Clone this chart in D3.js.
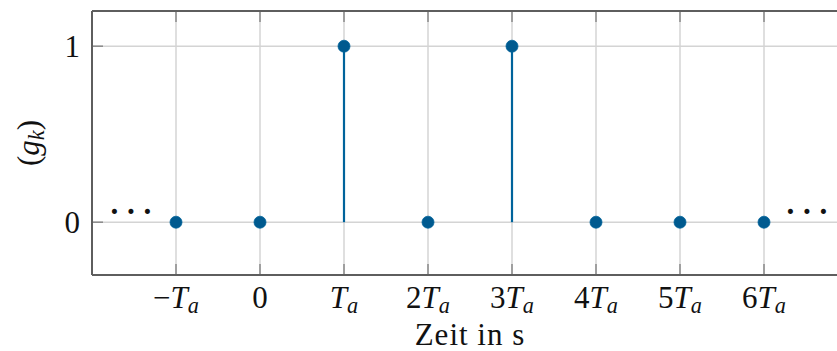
<!DOCTYPE html>
<html>
<head>
<meta charset="utf-8">
<script src="https://cdn.jsdelivr.net/npm/d3@7"></script>
<style>
  html, body { margin: 0; padding: 0; background: #fff; }
  svg { display: block; }
</style>
</head>
<body>
<svg id="chart" width="837" height="351"></svg>
<script>
// Sample positions k (multiples of T_a) and their values g_k
const sampleIndex = [-1, 0, 1, 2, 3, 4, 5, 6];
const sampleValue = [0, 0, 1, 0, 1, 0, 0, 0];
// Tick labels: coefficient in front of T_a, and whether T_a is shown
const xTickLabels = [
  { pre: "\u2212", sym: true },
  { pre: "0", sym: false },
  { pre: "", sym: true },
  { pre: "2", sym: true },
  { pre: "3", sym: true },
  { pre: "4", sym: true },
  { pre: "5", sym: true },
  { pre: "6", sym: true }
];
const yTicks = [0, 1];
const xDomain = [-2, 7];
const yDomain = [-0.3, 1.2];

const FONT = "'Liberation Serif', 'Times New Roman', Times, 'DejaVu Serif', serif";

const svg = d3.select("#chart")
  .attr("font-family", FONT);
const mLeft = 92, mTop = 11, mBottom = 275;
const x = d3.scaleLinear().domain(xDomain).range([mLeft, mLeft + 84 * (xDomain[1] - xDomain[0])]);
const y = d3.scaleLinear().domain(yDomain).range([mBottom, mTop]);
const mRight = x.range()[1];

const blue = "#00639b";
const dotBlue = "#005a8f";
const gridCol = "#d4d4d4";
const axisCol = "#5e5e5e";
const tickCol = "#8a8a8a";
const textCol = "#111";
const fs = 31;

// grid
svg.append("g").selectAll("line").data(sampleIndex).join("line")
  .attr("x1", d => x(d)).attr("x2", d => x(d))
  .attr("y1", mTop).attr("y2", mBottom)
  .attr("stroke", gridCol).attr("stroke-width", 1.5);
svg.append("g").selectAll("line").data(yTicks).join("line")
  .attr("x1", mLeft).attr("x2", mRight)
  .attr("y1", d => y(d)).attr("y2", d => y(d))
  .attr("stroke", gridCol).attr("stroke-width", 1.5);

// inner ticks on bottom, top and left
const tl = 11;
const ticks = svg.append("g").attr("stroke", tickCol).attr("stroke-width", 1.5);
ticks.append("g").selectAll("line").data(sampleIndex).join("line")
  .attr("x1", d => x(d)).attr("x2", d => x(d))
  .attr("y1", mBottom).attr("y2", mBottom - tl);
ticks.append("g").selectAll("line").data(sampleIndex).join("line")
  .attr("x1", d => x(d)).attr("x2", d => x(d))
  .attr("y1", mTop).attr("y2", mTop + tl);
ticks.append("g").selectAll("line").data(yTicks).join("line")
  .attr("x1", mLeft).attr("x2", mLeft + tl)
  .attr("y1", d => y(d)).attr("y2", d => y(d));

// axis frame (left, top, bottom)
const frame = svg.append("g").attr("stroke", axisCol).attr("stroke-width", 2).attr("fill", "none");
frame.append("line").attr("x1", mLeft).attr("x2", mLeft).attr("y1", mTop).attr("y2", mBottom);
frame.append("line").attr("x1", mLeft).attr("x2", mRight).attr("y1", mTop).attr("y2", mTop);
frame.append("line").attr("x1", mLeft).attr("x2", mRight).attr("y1", mBottom).attr("y2", mBottom);

// stems
const data = sampleIndex.map((k, i) => ({ k, v: sampleValue[i] }));
svg.append("g").selectAll("line").data(data.filter(d => d.v !== 0)).join("line")
  .attr("x1", d => x(d.k)).attr("x2", d => x(d.k))
  .attr("y1", y(0)).attr("y2", d => y(d.v))
  .attr("stroke", blue).attr("stroke-width", 2.2);

// markers
svg.append("g").selectAll("circle").data(data).join("circle")
  .attr("cx", d => x(d.k)).attr("cy", d => y(d.v)).attr("r", 6)
  .attr("fill", dotBlue).attr("stroke", blue).attr("stroke-width", 0.8);

// continuation dots on both sides
[x(-2) + 39, x(6) + 43].forEach(cx => {
  svg.append("text").attr("x", cx).attr("y", y(0))
    .attr("text-anchor", "middle").attr("font-size", fs).attr("fill", textCol)
    .attr("font-weight", "bold")
    .text("\u00B7\u2009\u00B7\u2009\u00B7");
});

// x tick labels
const xl = svg.append("g").attr("fill", textCol);
sampleIndex.forEach((k, i) => {
  const lab = xTickLabels[i];
  const t = xl.append("text").attr("x", x(k)).attr("y", 308)
    .attr("text-anchor", "middle").attr("font-size", fs);
  t.append("tspan").text(lab.pre);
  if (lab.sym) {
    t.append("tspan").attr("font-style", "italic").text("T");
    t.append("tspan").attr("font-style", "italic").attr("font-size", fs * 0.72)
      .attr("dy", 5).text("a");
  }
});

// y tick labels
svg.append("g").attr("fill", textCol).selectAll("text").data(yTicks).join("text")
  .attr("x", 80).attr("y", d => y(d) + 11)
  .attr("text-anchor", "end").attr("font-size", fs).text(d => d);

// axis titles
svg.append("text").attr("x", (mLeft + mRight) / 2).attr("y", 345)
  .attr("text-anchor", "middle").attr("font-size", fs).attr("fill", textCol)
  .attr("letter-spacing", 1).text("Zeit in s");

const yt = svg.append("text")
  .attr("transform", `translate(39,${(mTop + mBottom) / 2}) rotate(-90)`)
  .attr("text-anchor", "middle").attr("font-size", fs).attr("fill", textCol);
yt.append("tspan").text("(");
yt.append("tspan").attr("font-style", "italic").text("g");
yt.append("tspan").attr("font-style", "italic").attr("font-size", fs * 0.72).attr("dy", 5).text("k");
yt.append("tspan").attr("dy", -5).text(")");
</script>
</body>
</html>
